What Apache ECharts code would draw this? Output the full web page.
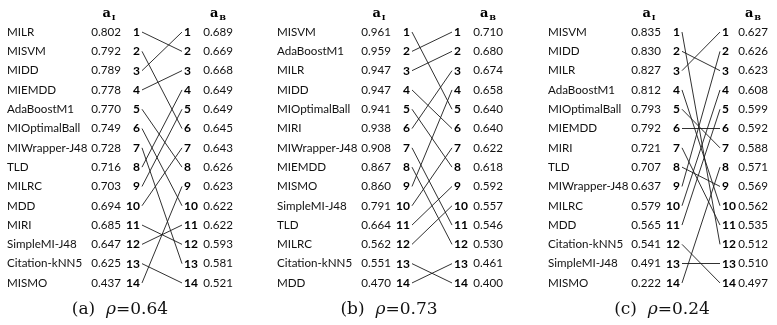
<!DOCTYPE html>
<html><head><meta charset="utf-8">
<script src="https://cdn.jsdelivr.net/npm/echarts@6/dist/echarts.min.js"></script>
<style>html,body{margin:0;padding:0;background:#fff}#c{width:777px;height:325px}</style>
</head><body><div id="c"></div>
<script>
// ---------- data ----------
const ranks = ['1','2','3','4','5','6','7','8','9','10','11','12','13','14'];

const namesA = ['MILR','MISVM','MIDD','MIEMDD','AdaBoostM1','MIOptimalBall','MIWrapper-J48','TLD','MILRC','MDD','MIRI','SimpleMI-J48','Citation-kNN5','MISMO'];
const aIA = ['0.802','0.792','0.789','0.778','0.770','0.749','0.728','0.716','0.703','0.694','0.685','0.647','0.625','0.437'];
const aBA = ['0.689','0.669','0.668','0.649','0.649','0.645','0.643','0.626','0.623','0.622','0.622','0.593','0.581','0.521'];
const mapA = [2,6,1,3,8,10,13,4,5,7,12,11,14,9];

const namesB = ['MISVM','AdaBoostM1','MILR','MIDD','MIOptimalBall','MIRI','MIWrapper-J48','MIEMDD','MISMO','SimpleMI-J48','TLD','MILRC','Citation-kNN5','MDD'];
const aIB = ['0.961','0.959','0.947','0.947','0.941','0.938','0.908','0.867','0.860','0.791','0.664','0.562','0.551','0.470'];
const aBB = ['0.710','0.680','0.674','0.658','0.640','0.640','0.622','0.618','0.592','0.557','0.546','0.530','0.461','0.400'];
const mapB = [5,1,2,6,8,3,11,12,4,7,9,10,14,13];

const namesC = ['MISVM','MIDD','MILR','AdaBoostM1','MIOptimalBall','MIEMDD','MIRI','TLD','MIWrapper-J48','MILRC','MDD','Citation-kNN5','SimpleMI-J48','MISMO'];
const aIC = ['0.835','0.830','0.827','0.812','0.793','0.792','0.721','0.707','0.637','0.579','0.565','0.541','0.491','0.222'];
const aBC = ['0.627','0.626','0.623','0.608','0.599','0.592','0.588','0.571','0.569','0.562','0.535','0.512','0.510','0.497'];
const mapC = [12,3,1,10,7,6,11,9,2,4,5,14,13,8];

const panelLetters = ['a','b','c'];
const rhoValues = ['0.64','0.73','0.24'];

// ---------- layout ----------
const W = 777, H = 325;
const layouts = [
  {namesX: 7,   aIRight: 121, lineL: 142, lineR: 182, aBRight: 233, cap: 120},
  {namesX: 277, aIRight: 391, lineL: 412, lineR: 452, aBRight: 503, cap: 389},
  {namesX: 548, aIRight: 661, lineL: 682, lineR: 720, aBRight: 768, cap: 662}
];
const panels = [
  {names: namesA, aI: aIA, aB: aBA, map: mapA},
  {names: namesB, aI: aIB, aB: aBB, map: mapB},
  {names: namesC, aI: aIC, aB: aBC, map: mapC}
];
const gridTop = 22.4, gridBottom = 32.4;
const sans = 'Lato';
const txt = {fontFamily: sans, fontSize: 11.6, color: '#111'};

const grid = [], xAxis = [], yAxis = [], series = [], graphic = [];
panels.forEach((p, k) => {
  const L = layouts[k];
  grid.push({left: L.lineL, right: W - L.lineR, top: gridTop, bottom: gridBottom});
  xAxis.push({type: 'value', gridIndex: k, min: 0, max: 1, show: false});
  const base = {type: 'category', gridIndex: k, data: ranks, inverse: true,
    axisLine: {show: false}, axisTick: {show: false}, splitLine: {show: false}};
  const y0 = yAxis.length;
  // left ranks
  yAxis.push(Object.assign({}, base, {position: 'left', offset: 0,
    axisLabel: Object.assign({}, txt, {interval: 0, margin: 2, fontSize: 12, fontWeight: 'bold', color: '#000'})}));
  // a_I values
  yAxis.push(Object.assign({}, base, {position: 'left', offset: L.lineL - L.aIRight,
    axisLabel: Object.assign({}, txt, {interval: 0, margin: 0, formatter: (v, i) => p.aI[i]})}));
  // names
  yAxis.push(Object.assign({}, base, {position: 'left', offset: L.lineL - L.namesX,
    axisLabel: Object.assign({}, txt, {interval: 0, margin: 0, align: 'left', formatter: (v, i) => p.names[i]})}));
  // right ranks
  yAxis.push(Object.assign({}, base, {position: 'right', offset: 0,
    axisLabel: Object.assign({}, txt, {interval: 0, margin: 2, fontSize: 12, fontWeight: 'bold', color: '#000'})}));
  // a_B values
  yAxis.push(Object.assign({}, base, {position: 'right', offset: L.aBRight - L.lineR,
    axisLabel: Object.assign({}, txt, {interval: 0, margin: 0, align: 'right', formatter: (v, i) => p.aB[i]})}));

  series.push({
    type: 'lines', coordinateSystem: 'cartesian2d', xAxisIndex: k, yAxisIndex: y0,
    silent: true, animation: false,
    lineStyle: {color: '#1a1a1a', width: 0.9, opacity: 1, curveness: 0},
    data: p.map.map((r, i) => ({coords: [[0, i], [1, r - 1]]}))
  });

  // headers
  const hdr = (x, sub) => ({type: 'text', x: x, y: 14, silent: true,
    style: {text: '{a|a}{s|' + sub + '}', align: 'center', verticalAlign: 'middle',
      rich: {a: {fontFamily: 'DejaVu Serif', fontWeight: 'bold', fontSize: 13, fill: '#000'},
             s: {fontFamily: 'DejaVu Serif', fontWeight: 'bold', fontSize: 8, fill: '#000', padding: [7, 0, 0, 1]}}}});
  graphic.push(hdr(L.aIRight - 12, 'I'));
  graphic.push(hdr(L.aBRight - 15, 'B'));
  // caption
  graphic.push({type: 'text', x: L.cap, y: 310, silent: true,
    style: {text: '{n|(' + panelLetters[k] + ')  }{r|ρ}{n|=' + rhoValues[k] + '}', align: 'center', verticalAlign: 'middle',
      rich: {n: {fontFamily: 'DejaVu Serif', fontSize: 17, fill: '#111'},
             r: {fontFamily: 'DejaVu Serif', fontStyle: 'italic', fontSize: 17, fill: '#111'}}}});
});

const chart = echarts.init(document.getElementById('c'), null, {renderer: 'canvas'});
chart.setOption({animation: false, backgroundColor: '#fff', grid, xAxis, yAxis, series, graphic});
</script>
</body></html>
